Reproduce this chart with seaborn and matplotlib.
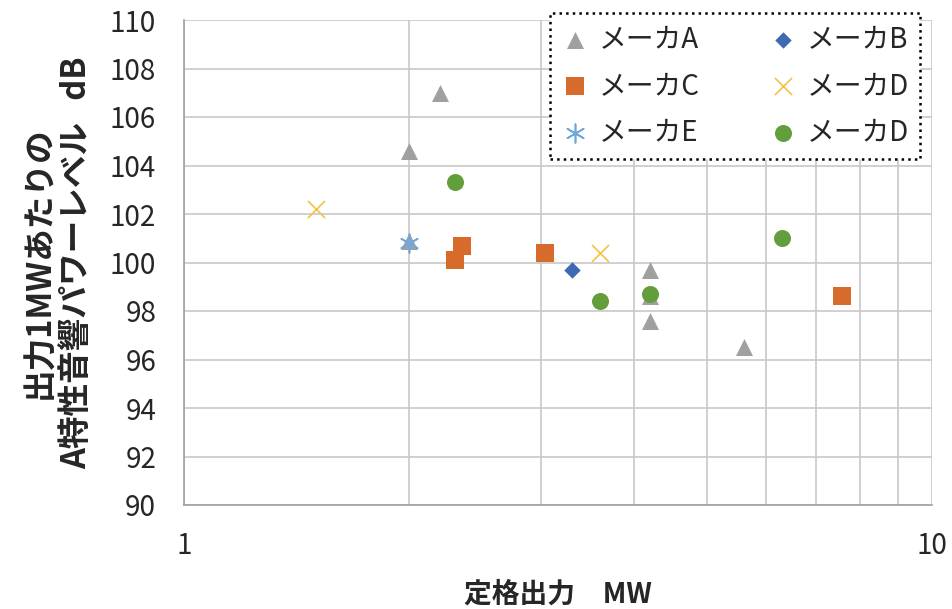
import matplotlib
matplotlib.use("Agg")
import matplotlib.pyplot as plt
import seaborn as sns
from matplotlib.ticker import FixedLocator, NullFormatter

# data (rated output MW, A-weighted sound power level per 1MW dB)
maker_a_x = [2.0, 2.2, 2.0, 4.2, 4.2, 4.2, 5.6]
maker_a_y = [104.6, 107.0, 100.9, 99.7, 98.6, 97.6, 96.5]
maker_b_x = [3.3]
maker_b_y = [99.7]
maker_c_x = [2.3, 2.35, 3.04, 7.57]
maker_c_y = [100.1, 100.7, 100.4, 98.6]
maker_d_x = [1.5, 3.6]
maker_d_y = [102.2, 100.4]
maker_e_x = [2.0]
maker_e_y = [100.8]
maker_d2_x = [2.3, 3.6, 4.2, 6.3]
maker_d2_y = [103.3, 98.4, 98.7, 101.0]

sns.set_style("white")
plt.rcParams['font.family'] = ['Noto Sans CJK JP', 'DejaVu Sans']

fig = plt.figure(figsize=(9.53, 6.09), dpi=100)
ax = fig.add_axes([184 / 953, 1 - 505 / 609, 748 / 953, 485 / 609])

series = [
    ("メーカA", maker_a_x, maker_a_y, dict(marker="^", color="#A0A0A0", s=150, linewidth=0)),
    ("メーカB", maker_b_x, maker_b_y, dict(marker="D", color="#3F69B3", s=70, linewidth=0)),
    ("メーカC", maker_c_x, maker_c_y, dict(marker="s", color="#D66B2B", s=150, linewidth=0)),
    ("メーカD", maker_d_x, maker_d_y, dict(marker="x", color="#F5C243", s=150, linewidth=1.2)),
    ("メーカE", maker_e_x, maker_e_y, dict(marker=(6, 2, 0), color="#6FA8DC", s=180, linewidth=1.2)),
    ("メーカD", maker_d2_x, maker_d2_y, dict(marker="o", color="#639E3C", s=150, linewidth=0)),
]
for name, xs, ys, kw in series:
    sns.scatterplot(x=xs, y=ys, ax=ax, label=name, zorder=3, **kw)

ax.set_xscale("log")
ax.set_xlim(1, 10)
ax.set_ylim(90, 110)
ax.set_xticks([1, 10])
ax.set_xticklabels(["1", "10"])
ax.xaxis.set_minor_locator(FixedLocator([2, 3, 4, 5, 6, 7, 8, 9]))
ax.xaxis.set_minor_formatter(NullFormatter())
ax.set_yticks(range(90, 111, 2))

ax.grid(True, which="major", color="#C8C8C8", linewidth=1.2)
ax.grid(True, which="minor", axis="x", color="#C8C8C8", linewidth=1.2)
for side in ["top", "right"]:
    ax.spines[side].set_visible(False)
for side in ["left", "bottom"]:
    ax.spines[side].set_color("#A0A0A0")
    ax.spines[side].set_linewidth(1.2)
ax.tick_params(axis="both", which="major", direction="out", length=8, width=1.2,
               color="#A0A0A0", labelsize=20)
ax.tick_params(axis="x", which="major", pad=11)
ax.tick_params(axis="y", which="major", pad=12)
ax.tick_params(axis="x", which="minor", length=0)

ax.set_xlabel("定格出力\u3000MW", fontsize=20, fontweight="bold", labelpad=14)
ax.set_ylabel("出力1MWあたりの\nA特性音響パワーレベル   dB", fontsize=23.5,
              fontweight="bold", labelpad=12, linespacing=1.15)

handles, labels = ax.get_legend_handles_labels()
order = [0, 2, 4, 1, 3, 5]
leg = ax.legend([handles[i] for i in order], [labels[i] for i in order], ncol=2,
                loc="upper right", bbox_to_anchor=((920 - 184) / 748, (505 - 13) / 485),
                borderaxespad=0, fontsize=20, frameon=True, fancybox=False, framealpha=1,
                edgecolor="black", borderpad=0.4, handletextpad=0.35, handlelength=1.0,
                columnspacing=2.5, labelspacing=0.6, markerscale=1.0)
leg.get_frame().set_linestyle(":")
leg.get_frame().set_linewidth(1.8)
leg.set_zorder(5)

fig.savefig("out.png", dpi=100)
